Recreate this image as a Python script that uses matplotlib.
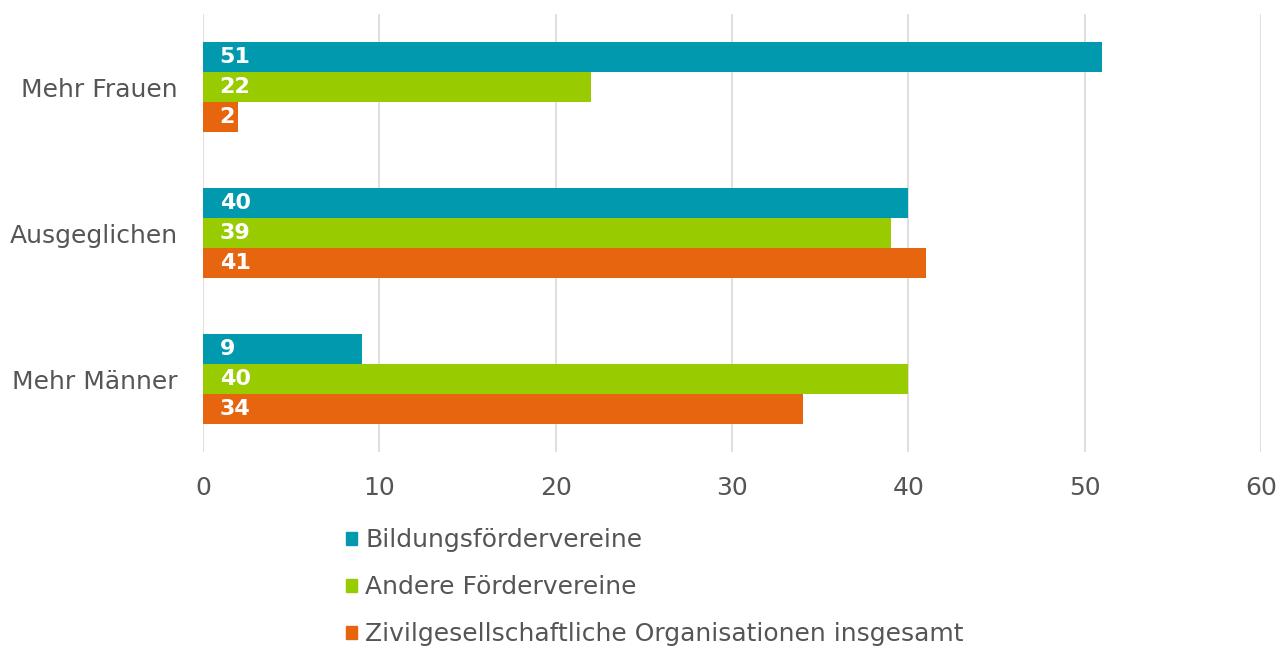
import matplotlib.pyplot as plt
import numpy as np
from matplotlib.patches import Patch

# Data
categories = ['Mehr Frauen', 'Ausgeglichen', 'Mehr Männer']
series = ['Bildungsfördervereine', 'Andere Fördervereine',
          'Zivilgesellschaftliche Organisationen insgesamt']
bildung = [51, 40, 9]
andere = [22, 39, 40]
zivil = [2, 41, 34]
colors = ['#0099ae', '#99cc00', '#e8650f']

plt.rcParams['font.family'] = ['DejaVu Sans']
text_col = '#555555'

fig = plt.figure(figsize=(12.79, 6.49), dpi=100)
ax = fig.add_axes([0.1587, 0.3035, 0.8272, 0.6749])

y = np.arange(len(categories))
h = 0.205
for i, (vals, c) in enumerate(zip([bildung, andere, zivil], colors)):
    pos = y + (i - 1) * h
    ax.barh(pos, vals, height=h, color=c, zorder=3)
    for p, v in zip(pos, vals):
        ax.annotate(str(v), (0, p), xytext=(12, 0), textcoords='offset points',
                    va='center', ha='left', color='white', fontsize=16,
                    fontweight='bold', zorder=4)

ax.set_xlim(0, 60)
ax.set_ylim(2.5, -0.5)
ax.set_xticks(np.arange(0, 61, 10))
ax.set_yticks(y)
ax.set_yticklabels(categories)
ax.tick_params(axis='both', length=0, labelsize=18, labelcolor=text_col)
ax.tick_params(axis='x', pad=17)
ax.tick_params(axis='y', pad=18)
ax.xaxis.grid(True, color='#dcdcdc', linewidth=1.3, zorder=0)
for s in ax.spines.values():
    s.set_visible(False)

handles = [Patch(color=c) for c in colors]
leg = fig.legend(handles, series, loc='upper left', bbox_to_anchor=(0.2705, 0.186),
                 frameon=False, fontsize=18, handlelength=0.44, handleheight=0.44,
                 handletextpad=0.33, labelspacing=0.92, borderpad=0, borderaxespad=0)
for t in leg.get_texts():
    t.set_color(text_col)

fig.savefig('out.png', dpi=100)
